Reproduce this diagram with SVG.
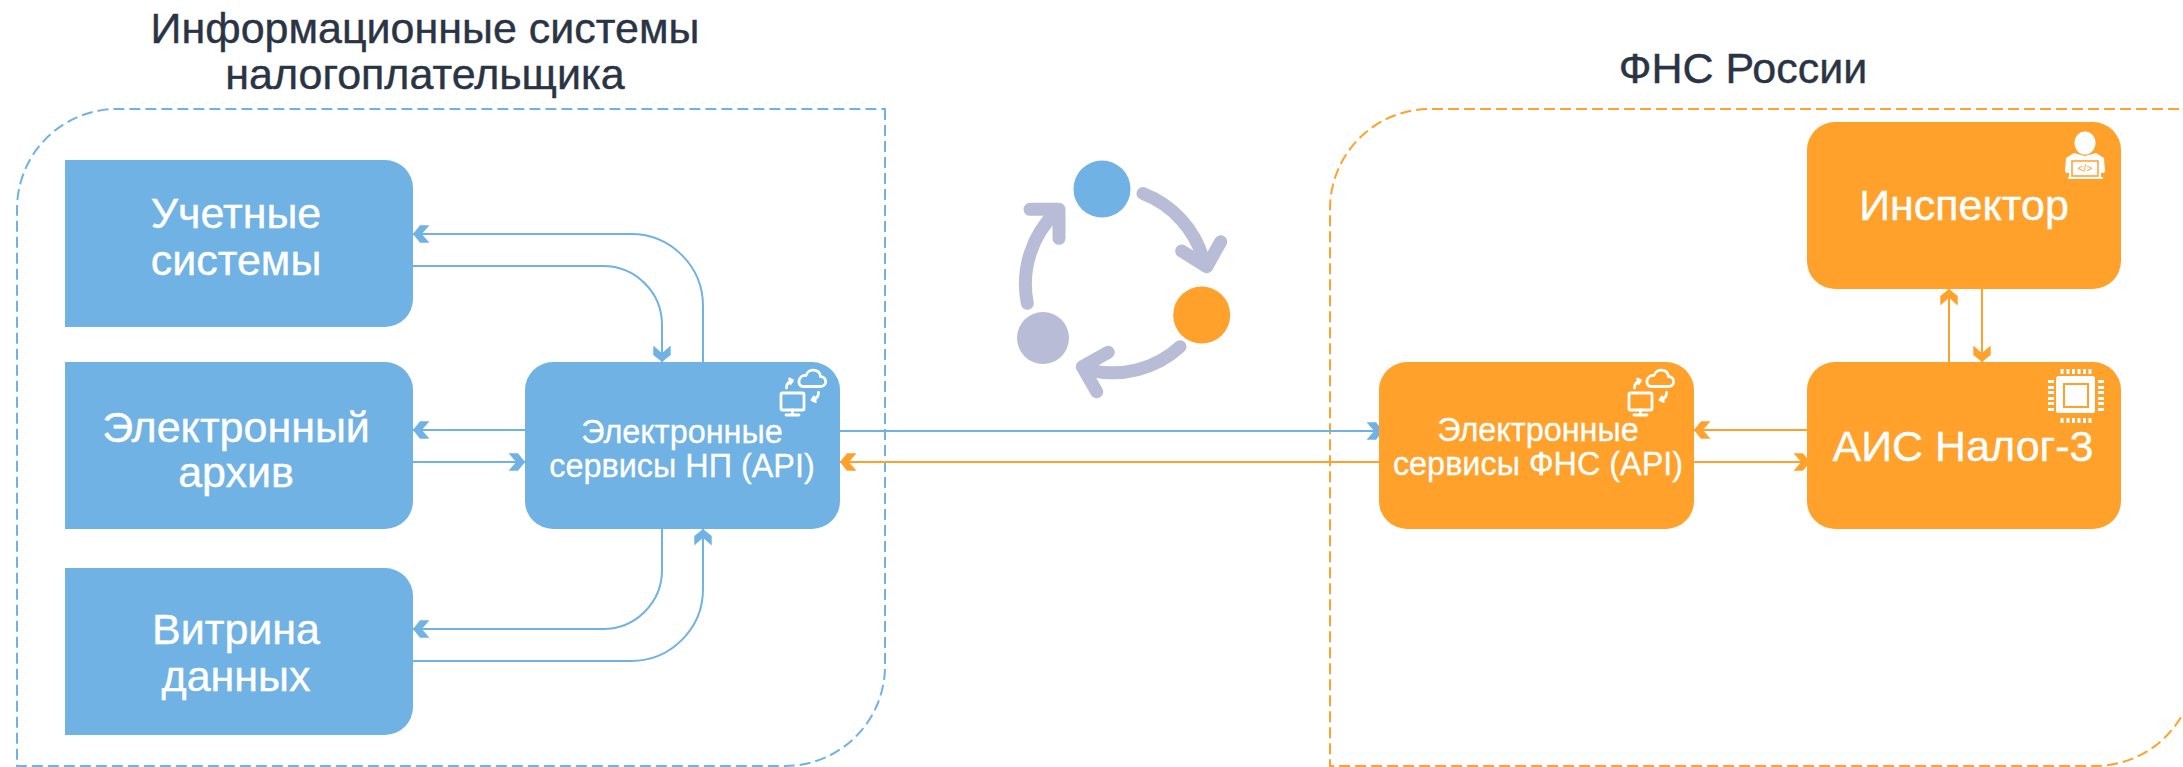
<svg xmlns="http://www.w3.org/2000/svg" xmlns:xlink="http://www.w3.org/1999/xlink" width="2183" height="767" viewBox="0 0 2183 767">
<style>
text{font-family:"Liberation Sans",Arial,sans-serif;text-anchor:middle}
.title{font-size:43px;fill:#2a3444;stroke:#2a3444;stroke-width:.4}
.big{font-size:43px;fill:#fff;stroke:#fff;stroke-width:.4}
.small{font-size:32.400px;fill:#fff;stroke:#fff;stroke-width:.3}
.blue{fill:#70b2e4}
.orange{fill:#ffa12b}
.lav{fill:#b9bcd7}
.lb{fill:none;stroke:#70b2e4;stroke-width:2}
.lo{fill:none;stroke:#ffa12b;stroke-width:2}
.ab{marker-end:url(#mb)}
.ao{marker-end:url(#mo)}
.dash{fill:none;stroke-width:2;stroke-dasharray:11 5}
.cyc{fill:none;stroke:#b9bcd7;stroke-width:13;stroke-linecap:round;stroke-linejoin:round}
.ic{fill:none;stroke:#fff;stroke-width:2.800;stroke-linecap:round;stroke-linejoin:round}
.w{fill:#fff}
</style>
<defs>
<marker id="mb" markerUnits="userSpaceOnUse" markerWidth="20" markerHeight="20" refX="16.500" refY="9" orient="auto" viewBox="0 0 20 18">
<path class="blue" d="M0 .3L7.700 9L0 17.700H9.500L16.500 9L9.500 .3Z"/>
</marker>
<marker id="mo" markerUnits="userSpaceOnUse" markerWidth="20" markerHeight="20" refX="16.500" refY="9" orient="auto" viewBox="0 0 20 18">
<path class="orange" d="M0 .3L7.700 9L0 17.700H9.500L16.500 9L9.500 .3Z"/>
</marker>
<g id="cloudIcon">
<rect class="ic" x="781" y="393" width="23" height="17" rx="1.500" stroke-width="3.200"/>
<path class="ic" d="M792.500 410V414M786 415H799"/>
<path class="ic" d="M803 386.500H820C827.500 386.500 827.500 377 820.500 376.500C819.500 368.500 808 368 806 375.500C798 374.500 796.500 386 803 386.500Z"/>
<path class="ic" d="M786.500 388C786.500 384 788.500 381.500 792 380.500M789.500 379L792.500 380.500L790.500 383.500"/>
<path class="ic" d="M818.500 392.500C818.500 396.500 816.500 399 812.500 400M815.500 401.500L812 400L814 397"/>
</g>
</defs>

<rect width="2183" height="767" fill="#fff"/>

<g id="group-taxpayer">
<path class="dash" stroke="#70b2e4" d="M885 109V666A100 100 0 0 1 785 766H17V209A100 100 0 0 1 117 109Z"/>
<text class="title" x="425" y="43">Информационные системы</text>
<text class="title" x="425" y="89">налогоплательщика</text>
</g>
<g id="group-fns">
<path class="dash" stroke="#ffa12b" d="M2195 109H1430A100 100 0 0 0 1330 209V766H2095A100 100 0 0 0 2195 666"/>
<text class="title" x="1743" y="83">ФНС России</text>
</g>

<g id="connectors">
<path class="lb ab" d="M703 362V306A72 72 0 0 0 631 234H413"/>
<path class="lb ab" d="M413 266H603A59 59 0 0 1 662 325V362"/>
<path class="lb ab" d="M525 430H413"/>
<path class="lb ab" d="M413 462H525"/>
<path class="lb ab" d="M662 529V570A59 59 0 0 1 603 629H413"/>
<path class="lb ab" d="M413 661H631A72 72 0 0 0 703 589V529"/>
<path class="lb ab" d="M840 431H1383"/>
<path class="lo ao" d="M1379 462H840"/>
<path class="lo ao" d="M1807 430H1694"/>
<path class="lo ao" d="M1694 462H1810"/>
<path class="lo ao" d="M1949 362V289"/>
<path class="lo ao" d="M1982 289V362"/>
</g>

<g id="node-accounting">
<path class="blue" d="M65 160H385A28 28 0 0 1 413 188V299A28 28 0 0 1 385 327H65Z"/>
<text class="big" x="236" y="228">Учетные</text>
<text class="big" x="236" y="275">системы</text>
</g>
<g id="node-archive">
<path class="blue" d="M65 362H385A28 28 0 0 1 413 390V501A28 28 0 0 1 385 529H65Z"/>
<text class="big" x="236" y="442">Электронный</text>
<text class="big" x="236" y="487">архив</text>
</g>
<g id="node-showcase">
<path class="blue" d="M65 568H385A28 28 0 0 1 413 596V707A28 28 0 0 1 385 735H65Z"/>
<text class="big" x="236" y="644">Витрина</text>
<text class="big" x="236" y="691">данных</text>
</g>
<g id="node-api-np">
<rect class="blue" x="525" y="362" width="315" height="167" rx="28"/>
<use xlink:href="#cloudIcon" href="#cloudIcon"/>
<text class="small" x="682" y="443">Электронные</text>
<text class="small" x="682" y="477">сервисы НП (API)</text>
</g>
<g id="node-api-fns">
<rect class="orange" x="1379" y="362" width="315" height="167" rx="28"/>
<use xlink:href="#cloudIcon" href="#cloudIcon" x="848"/>
<text class="small" x="1538" y="441">Электронные</text>
<text class="small" x="1538" y="475">сервисы ФНС (API)</text>
</g>
<g id="node-inspector">
<rect class="orange" x="1807" y="122" width="314" height="167" rx="28"/>
<ellipse class="w" cx="2085" cy="143" rx="10.500" ry="11.500"/>
<path class="w" d="M2074 153L2066 158L2065 171L2066 173H2069V177H2101V173H2104L2105 171L2104 158L2096 153L2085 156Z"/>
<rect x="2072" y="161" width="26" height="15" fill="#fff" stroke="#ffa12b" stroke-width="1.500"/>
<rect class="w" x="2068" y="177" width="35" height="2"/>
<text x="2085" y="172" font-size="10" class="orange">&lt;/&gt;</text>
<text class="big" x="1964" y="220">Инспектор</text>
</g>
<g id="node-ais">
<rect class="orange" x="1807" y="362" width="314" height="167" rx="28"/>
<g id="chip" class="w">
<rect x="2056" y="376" width="39" height="37" rx="2.500"/>
<rect x="2064" y="384" width="24" height="23" fill="#fff" stroke="#ffa12b" stroke-width="2"/>
<path d="M2060.500 369h3v5h-3zM2066.500 369h3v5h-3zM2072 369h3v5h-3zM2077.500 369h3v5h-3zM2083 369h3v5h-3zM2088.500 369h3v5h-3z"/>
<path d="M2060.500 418h3v5h-3zM2066.500 418h3v5h-3zM2072 418h3v5h-3zM2077.500 418h3v5h-3zM2083 418h3v5h-3zM2088.500 418h3v5h-3z"/>
<path d="M2048 380h6v3h-6zM2048 386h6v3h-6zM2048 391h6v3h-6zM2048 397h6v3h-6zM2048 402h6v3h-6zM2048 408h6v3h-6z"/>
<path d="M2098 380h6v3h-6zM2098 386h6v3h-6zM2098 391h6v3h-6zM2098 397h6v3h-6zM2098 402h6v3h-6zM2098 408h6v3h-6z"/>
</g>
<text class="big" x="1963" y="461">АИС Налог-3</text>
</g>

<g id="cycle">
<circle class="blue" cx="1102" cy="189" r="28.500"/>
<circle class="orange" cx="1201.700" cy="315" r="28.500"/>
<circle class="lav" cx="1043" cy="338" r="26"/>
<path class="cyc" d="M1143 193.500A100 100 0 0 1 1204 262"/>
<path class="cyc" d="M1181.700 251L1206.700 266.700L1220.700 241.700"/>
<path class="cyc" d="M1180 346.700A100 100 0 0 1 1089 370"/>
<path class="cyc" d="M1108.300 352.300L1082.300 366.700L1096.700 391.700"/>
<path class="cyc" d="M1027.300 303.300A100 100 0 0 1 1056 212"/>
<path class="cyc" d="M1030 209.300H1059V238.300"/>
</g>
</svg>
